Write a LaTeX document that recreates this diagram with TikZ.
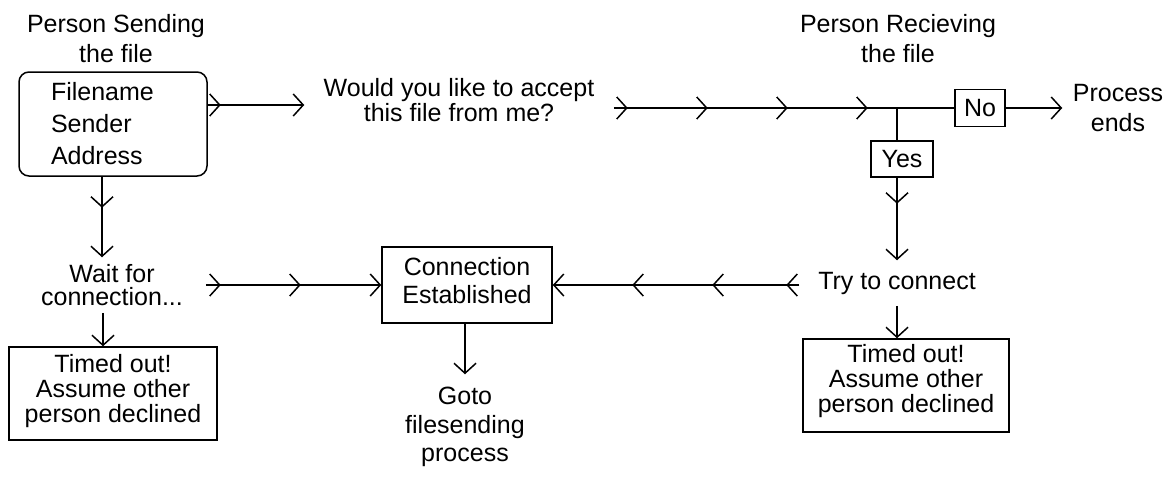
\documentclass[tikz,border=0pt]{standalone}
\usepackage{fontspec}
\setmainfont{Liberation Sans}
\usetikzlibrary{arrows.meta,decorations.markings}
\begin{document}
\begin{tikzpicture}[x=1pt,y=-1pt,
  line width=1.5pt,
  cv/.tip={Straight Barb[length=10pt,width=22pt]},
  fs/.style={font=\fontsize{25}{#1}\selectfont},
  txt/.style={inner sep=0pt, align=center},
  box/.style={draw, inner sep=0pt, align=center},
  chevs/.style={postaction={decorate,
      decoration={markings, mark=at position #1 with {\arrow{cv}}}}},
]
\useasboundingbox (0,0) rectangle (1174,477);

% sender side
\node[txt, fs=30] (sendlbl) at (116,39) {Person Sending\\the file};
\node[box, rounded corners=10pt, fs=32, align=left, text width=124pt,
      inner xsep=32pt, minimum height=104pt] (src) at (113,124)
      {Filename\\Sender\\Address};

% question sent to the receiver
\node[txt, fs=25, minimum width=308pt] (ask) at (459,100.5)
      {Would you like to accept\\this file from me?};

% receiver side
\node[txt, fs=30] (recvlbl) at (898,39) {Person Recieving\\the file};
\coordinate (j) at (897,108);
\node[box, fs=30, minimum width=50pt, minimum height=37pt] (no) at (980,108) {No};
\node[box, fs=30, minimum width=62pt, minimum height=36pt] (yes) at (902,159) {Yes};
\node[txt, fs=30, minimum width=110pt] (ends) at (1118,108) {Process\\ends};
\node[txt, fs=25, minimum width=194pt, minimum height=44pt] (try) at (897,283) {Try to connect};
\node[box, fs=25, minimum width=206pt, minimum height=93pt,
      text depth=14pt] (to2) at (906,385.5)
      {Timed out!\\Assume other\\person declined};

% connection
\node[box, fs=28, minimum width=170pt, minimum height=76pt,
      text depth=10pt] (est) at (467,285)
      {Connection\\Established};
\node[txt, fs=28.5, minimum height=104pt] (goto) at (465,427)
      {Goto\\filesending\\process};

% sender waits
\node[txt, fs=23, minimum width=186pt, minimum height=54pt] (wait) at (112,285)
      {Wait for\\connection...};
\node[box, fs=25, minimum width=208pt, minimum height=93pt,
      text depth=11pt] (to1) at (113,393.5)
      {Timed out!\\Assume other\\person declined};

% connectors
\coordinate (r1) at ([yshift=19pt]src.east);
\draw[chevs=13pt, -cv] (r1) -- (ask.west |- r1);
\draw[chevs=14pt, chevs=94pt, chevs=174pt, chevs=254pt] (ask.east |- j) -- (j);
\draw (j) -- (no.west);
\draw[-cv] (no.east) -- (ends.west);
\draw (j) -- (j |- yes.north);
\draw[chevs=26pt, -cv] (j |- yes.south) -- (try.north);
\draw[-cv] (try.south) -- (try.south |- to2.north);
\draw[chevs=13pt, chevs=87pt, chevs=167pt, -cv] (try.west |- est.east) -- (est.east);
\draw[chevs=31pt, -cv] ([xshift=-11pt]src.south) -- ([xshift=-11pt]src.south |- wait.north);
\draw[-cv] ([xshift=-9pt]wait.south) -- ([xshift=-9pt]wait.south |- to1.north);
\draw[chevs=15pt, chevs=95pt, -cv] (wait.east) -- (est.west);
\draw[-cv] (est.south -| goto.north) -- (goto.north);
\end{tikzpicture}
\end{document}
